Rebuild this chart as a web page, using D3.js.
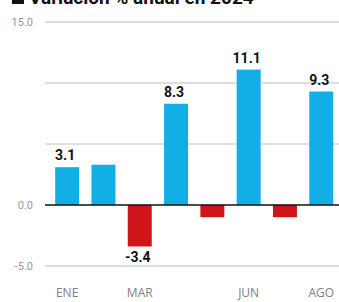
<!DOCTYPE html>
<html><head><meta charset="utf-8">
<script src="https://cdn.jsdelivr.net/npm/d3@7"></script>
<style>html,body{margin:0;padding:0;background:#fff;overflow:hidden}</style>
</head><body>
<svg id="c" width="339" height="302"></svg>
<script>
const months = ["ENE","FEB","MAR","ABR","MAY","JUN","JUL","AGO"];
const values = [3.1, 3.3, -3.4, 8.3, -1.0, 11.1, -1.0, 9.3];
const shownValueLabels = ["ENE","MAR","ABR","JUN","AGO"];
const shownMonthLabels = ["ENE","MAR","JUN","AGO"];
const gridTicks = [15, 10, 5, -5];
const labeledTicks = [15, 0, -5];
const title = "Variación % anual en 2024";

const svg = d3.select("#c");
const y = d3.scaleLinear().domain([-5, 15]).range([266, 22]);
const x = d3.scaleBand().domain(months).range([49, 339.4]).paddingInner(0.34).paddingOuter(0.17);

// title
svg.append("rect").attr("x", 12).attr("y", -8).attr("width", 12).attr("height", 12).attr("fill", "#111");
svg.append("text").attr("x", 29).attr("y", 4).text(title)
  .attr("font-family", "Liberation Sans Narrow, Roboto, sans-serif").attr("font-weight", "bold")
  .attr("font-size", 19).attr("fill", "#111");

// grid
svg.append("g").selectAll("line").data(gridTicks).join("line")
  .attr("x1", 45).attr("x2", 339).attr("y1", d => y(d)).attr("y2", d => y(d))
  .attr("stroke", "#bdbdbd").attr("stroke-width", 1);

svg.append("g").selectAll("text").data(labeledTicks).join("text")
  .attr("x", 33).attr("y", d => y(d) + 4).attr("text-anchor", "end")
  .attr("font-family", "Liberation Sans Narrow, Roboto, sans-serif").attr("font-size", 11)
  .attr("fill", "#999").text(d => d.toFixed(1));

// bars
svg.append("g").selectAll("rect").data(values).join("rect")
  .attr("x", (d, i) => x(months[i])).attr("width", x.bandwidth())
  .attr("y", d => y(Math.max(0, d))).attr("height", d => Math.abs(y(d) - y(0)))
  .attr("fill", d => d >= 0 ? "#12afe6" : "#d0151a");

// zero line
svg.append("line").attr("x1", 45).attr("x2", 339).attr("y1", y(0)).attr("y2", y(0))
  .attr("stroke", "#111").attr("stroke-width", 1.3);

// value labels
svg.append("g").selectAll("text").data(values.map((v, i) => ({v, m: months[i]})).filter(d => shownValueLabels.includes(d.m))).join("text")
  .attr("x", d => x(d.m) + x.bandwidth() / 2 - 2)
  .attr("y", d => d.v >= 0 ? y(d.v) - 7 : y(d.v) + 16)
  .attr("text-anchor", "middle")
  .attr("font-family", "Liberation Sans Narrow, Roboto, sans-serif").attr("font-weight", "bold")
  .attr("font-size", 14).attr("fill", "#111")
  .text(d => d.v.toFixed(1));

// month labels
svg.append("g").selectAll("text").data(shownMonthLabels).join("text")
  .attr("x", d => x(d) + x.bandwidth() / 2).attr("y", 297).attr("text-anchor", "middle")
  .attr("font-family", "Open Sans, sans-serif").attr("font-size", 12)
  .attr("fill", "#808080").text(d => d);
</script>
</body></html>
